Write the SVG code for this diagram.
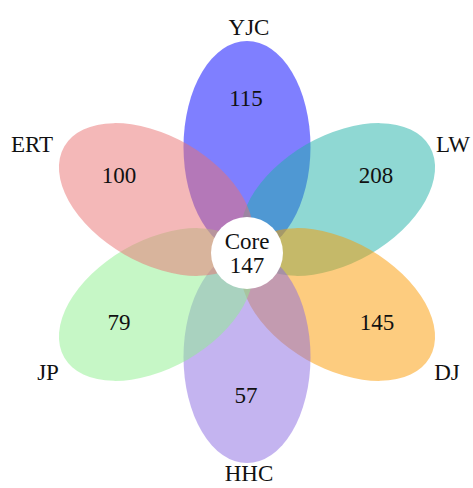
<svg xmlns="http://www.w3.org/2000/svg" width="473" height="488" viewBox="0 0 473 488">
<style>
.p{opacity:0.5}
.t{font-family:"Liberation Serif","Times New Roman",serif;font-size:23px;fill:#111;text-anchor:middle}
</style>
<rect width="473" height="488" fill="#fff"/>
<g id="YJC"><ellipse class="p" cx="247" cy="147" rx="63.5" ry="106" fill="#0000ff"/></g>
<g id="LW"><ellipse class="p" cx="247" cy="147" rx="63.5" ry="106" fill="#1fb1a7" transform="rotate(60 247 252)"/></g>
<g id="DJ"><ellipse class="p" cx="247" cy="147" rx="63.5" ry="106" fill="#fb9900" transform="rotate(120 247 252)"/></g>
<g id="HHC"><ellipse class="p" cx="247" cy="147" rx="63.5" ry="106" fill="#8969e1" transform="rotate(180 247 252)"/></g>
<g id="JP"><ellipse class="p" cx="247" cy="147" rx="63.5" ry="106" fill="#8def8d" transform="rotate(240 247 252)"/></g>
<g id="ERT"><ellipse class="p" cx="247" cy="147" rx="63.5" ry="106" fill="#e97171" transform="rotate(300 247 252)"/></g>
<g id="labels">
<text class="t" x="249" y="35">YJC</text>
<text class="t" x="246" y="106">115</text>
<text class="t" x="32" y="152">ERT</text>
<text class="t" x="119" y="183">100</text>
<text class="t" x="453" y="152">LW</text>
<text class="t" x="376" y="183">208</text>
<text class="t" x="119" y="330">79</text>
<text class="t" x="377" y="330">145</text>
<text class="t" x="48" y="380">JP</text>
<text class="t" x="447" y="380">DJ</text>
<text class="t" x="246" y="403">57</text>
<text class="t" x="249" y="481">HHC</text>
</g>
<g id="Core">
<circle cx="247" cy="253" r="36" fill="#fff"/>
<text class="t" x="247" y="249">Core</text>
<text class="t" x="247" y="273">147</text>
</g>
</svg>
